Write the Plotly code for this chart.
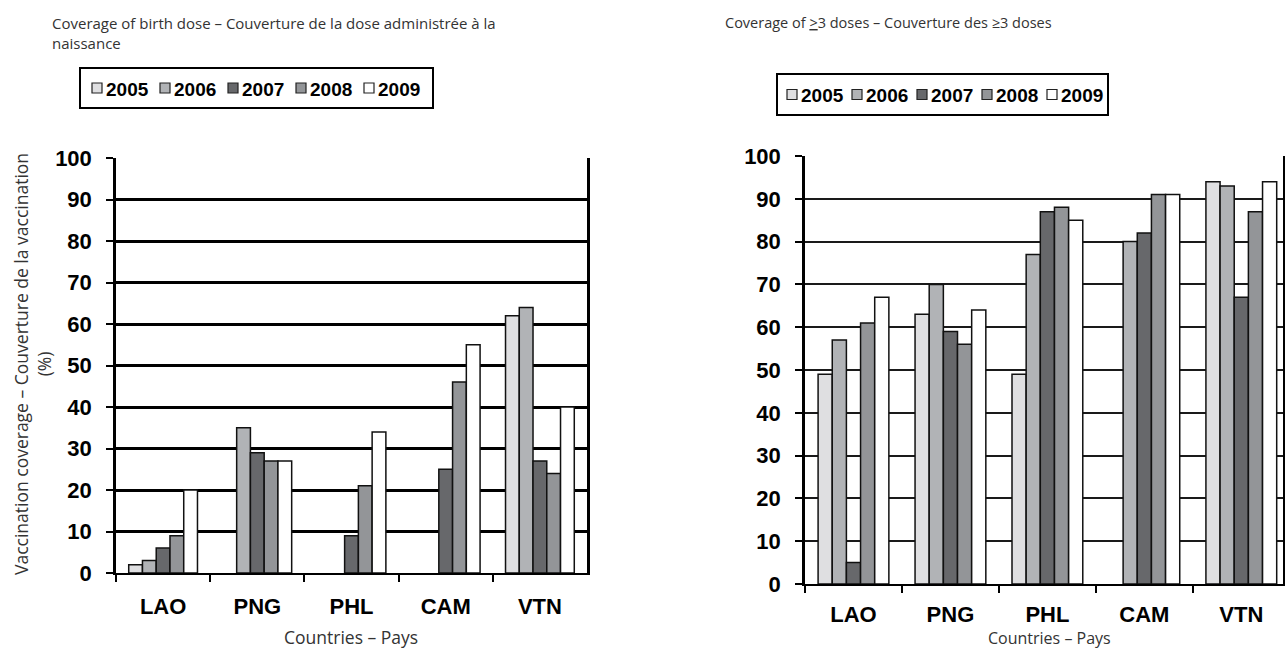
import plotly.graph_objects as go

countries = ["LAO", "PNG", "PHL", "CAM", "VTN"]
years = ["2005", "2006", "2007", "2008", "2009"]

# Coverage of birth dose (%), one list per year, in country order
birth_2005 = [2, None, None, None, 62]
birth_2006 = [3, 35, None, None, 64]
birth_2007 = [6, 29, 9, 25, 27]
birth_2008 = [9, 27, 21, 46, 24]
birth_2009 = [20, 27, 34, 55, 40]

# Coverage of >=3 doses (%)
dose3_2005 = [49, 63, 49, None, 94]
dose3_2006 = [57, 70, 77, 80, 93]
dose3_2007 = [5, 59, 87, 82, 67]
dose3_2008 = [61, 56, 88, 91, 87]
dose3_2009 = [67, 64, 85, 91, 94]

y_ticks = [0, 10, 20, 30, 40, 50, 60, 70, 80, 90, 100]

birth_series = [birth_2005, birth_2006, birth_2007, birth_2008, birth_2009]
dose3_series = [dose3_2005, dose3_2006, dose3_2007, dose3_2008, dose3_2009]
bar_colors = ["#dfdfe1", "#b1b3b6", "#67686b", "#939598", "#ffffff"]

W, H = 1285, 651
def px_x(p):
    return p / W
def px_y(p):
    return 1 - p / H

fig = go.Figure()
for yr, vals, col in zip(years, birth_series, bar_colors):
    fig.add_trace(go.Bar(x=countries, y=vals, name=yr, marker=dict(color=col, line=dict(color="#111111", width=1.5)),
                         xaxis="x", yaxis="y", showlegend=False))
for yr, vals, col in zip(years, dose3_series, bar_colors):
    fig.add_trace(go.Bar(x=countries, y=vals, name=yr, marker=dict(color=col, line=dict(color="#111111", width=1.5)),
                         xaxis="x2", yaxis="y2", showlegend=False))

tickfont = dict(family="Liberation Sans, Arial", size=22, color="black", weight="bold")
legfont = dict(family="Liberation Sans, Arial", size=19, color="black", weight="bold")
titlefont = dict(family="Open Sans", size=15, color="#333333")
axtitlefont = dict(family="Open Sans", size=17.5, color="#333333")

common_x = dict(type="category", tickson="boundaries", ticks="outside", ticklen=7, tickwidth=2, tickcolor="black",
                showline=True, linecolor="black", linewidth=2, showgrid=False, tickfont=tickfont, fixedrange=True)

fig.update_layout(
    width=W, height=H, margin=dict(l=0, r=0, t=0, b=0, autoexpand=False),
    paper_bgcolor="white", plot_bgcolor="white", showlegend=False,
    barmode="group", bargap=0.27, bargroupgap=0,
    xaxis=dict(common_x, domain=[px_x(116), px_x(587)], range=[-0.5, 4.5], anchor="y", ticklabelstandoff=13),
    yaxis=dict(domain=[px_y(573), px_y(158)], range=[0, 100], tickvals=y_ticks, anchor="x",
               showgrid=True, gridcolor="black", gridwidth=3, showline=True, linecolor="black", linewidth=2.5,
               mirror=True, ticks="outside", ticklen=7, tickwidth=2, tickcolor="black", tickfont=tickfont,
               ticklabelstandoff=10, zeroline=False),
    xaxis2=dict(common_x, domain=[px_x(805), px_x(1283)], range=[-0.5, 4.43], anchor="y2", ticklabelstandoff=10),
    yaxis2=dict(domain=[px_y(584), px_y(156)], range=[0, 100], tickvals=y_ticks, anchor="x2",
                showgrid=True, gridcolor="#1a1a1a", gridwidth=2.2, showline=True, linecolor="black", linewidth=2.5,
                mirror=True, ticks="outside", ticklen=7, tickwidth=2, tickcolor="black", tickfont=tickfont,
                ticklabelstandoff=10, zeroline=False),
)

annotations = [
    dict(text="Coverage of birth dose – Couverture de la dose administrée à la<br>naissance", x=px_x(50), y=px_y(11),
         xanchor="left", yanchor="top", align="left", font=titlefont),
    dict(text="Coverage of <u>></u>3 doses – Couverture des ≥3 doses", x=px_x(723), y=px_y(11),
         xanchor="left", yanchor="top", align="left", font=dict(titlefont, size=14.5)),
    dict(text="Vaccination coverage – Couverture de la vaccination<br>(%)", x=px_x(33), y=px_y(364),
         xanchor="center", yanchor="middle", textangle=-90, font=axtitlefont),
    dict(text="Countries – Pays", x=px_x(351), y=px_y(637), xanchor="center", yanchor="middle", font=axtitlefont),
    dict(text="Countries – Pays", x=px_x(1049), y=px_y(638), xanchor="center", yanchor="middle",
         font=dict(axtitlefont, size=16)),
]
shapes = []

# Legends (box, swatch and label for each year), one per panel
legend_boxes = [
    dict(x0=80, x1=433, y0=68, y1=108, first=97, pitch=68),
    dict(x0=777, x1=1108, y0=74, y1=115, first=792, pitch=65),
]
for lb in legend_boxes:
    shapes.append(dict(type="rect", xref="paper", yref="paper", x0=px_x(lb["x0"]), x1=px_x(lb["x1"]),
                       y0=px_y(lb["y1"]), y1=px_y(lb["y0"]), line=dict(color="black", width=2), fillcolor="white",
                       layer="above"))
    yc = (lb["y0"] + lb["y1"]) / 2
    for i, (yr, col) in enumerate(zip(years, bar_colors)):
        cx = lb["first"] + i * lb["pitch"]
        shapes.append(dict(type="rect", xref="paper", yref="paper", x0=px_x(cx - 5), x1=px_x(cx + 5),
                           y0=px_y(yc + 5), y1=px_y(yc - 5), line=dict(color="#222222", width=1.2),
                           fillcolor=col, layer="above"))
        annotations.append(dict(text=yr, x=px_x(cx + 7), y=px_y(yc + 1), xanchor="left", yanchor="middle",
                                font=legfont))

for a in annotations:
    a.update(xref="paper", yref="paper", showarrow=False)
fig.update_layout(annotations=annotations, shapes=shapes)

fig.write_html("out.html", config={"displayModeBar": False}, post_script="document.body.style.margin='0';")
